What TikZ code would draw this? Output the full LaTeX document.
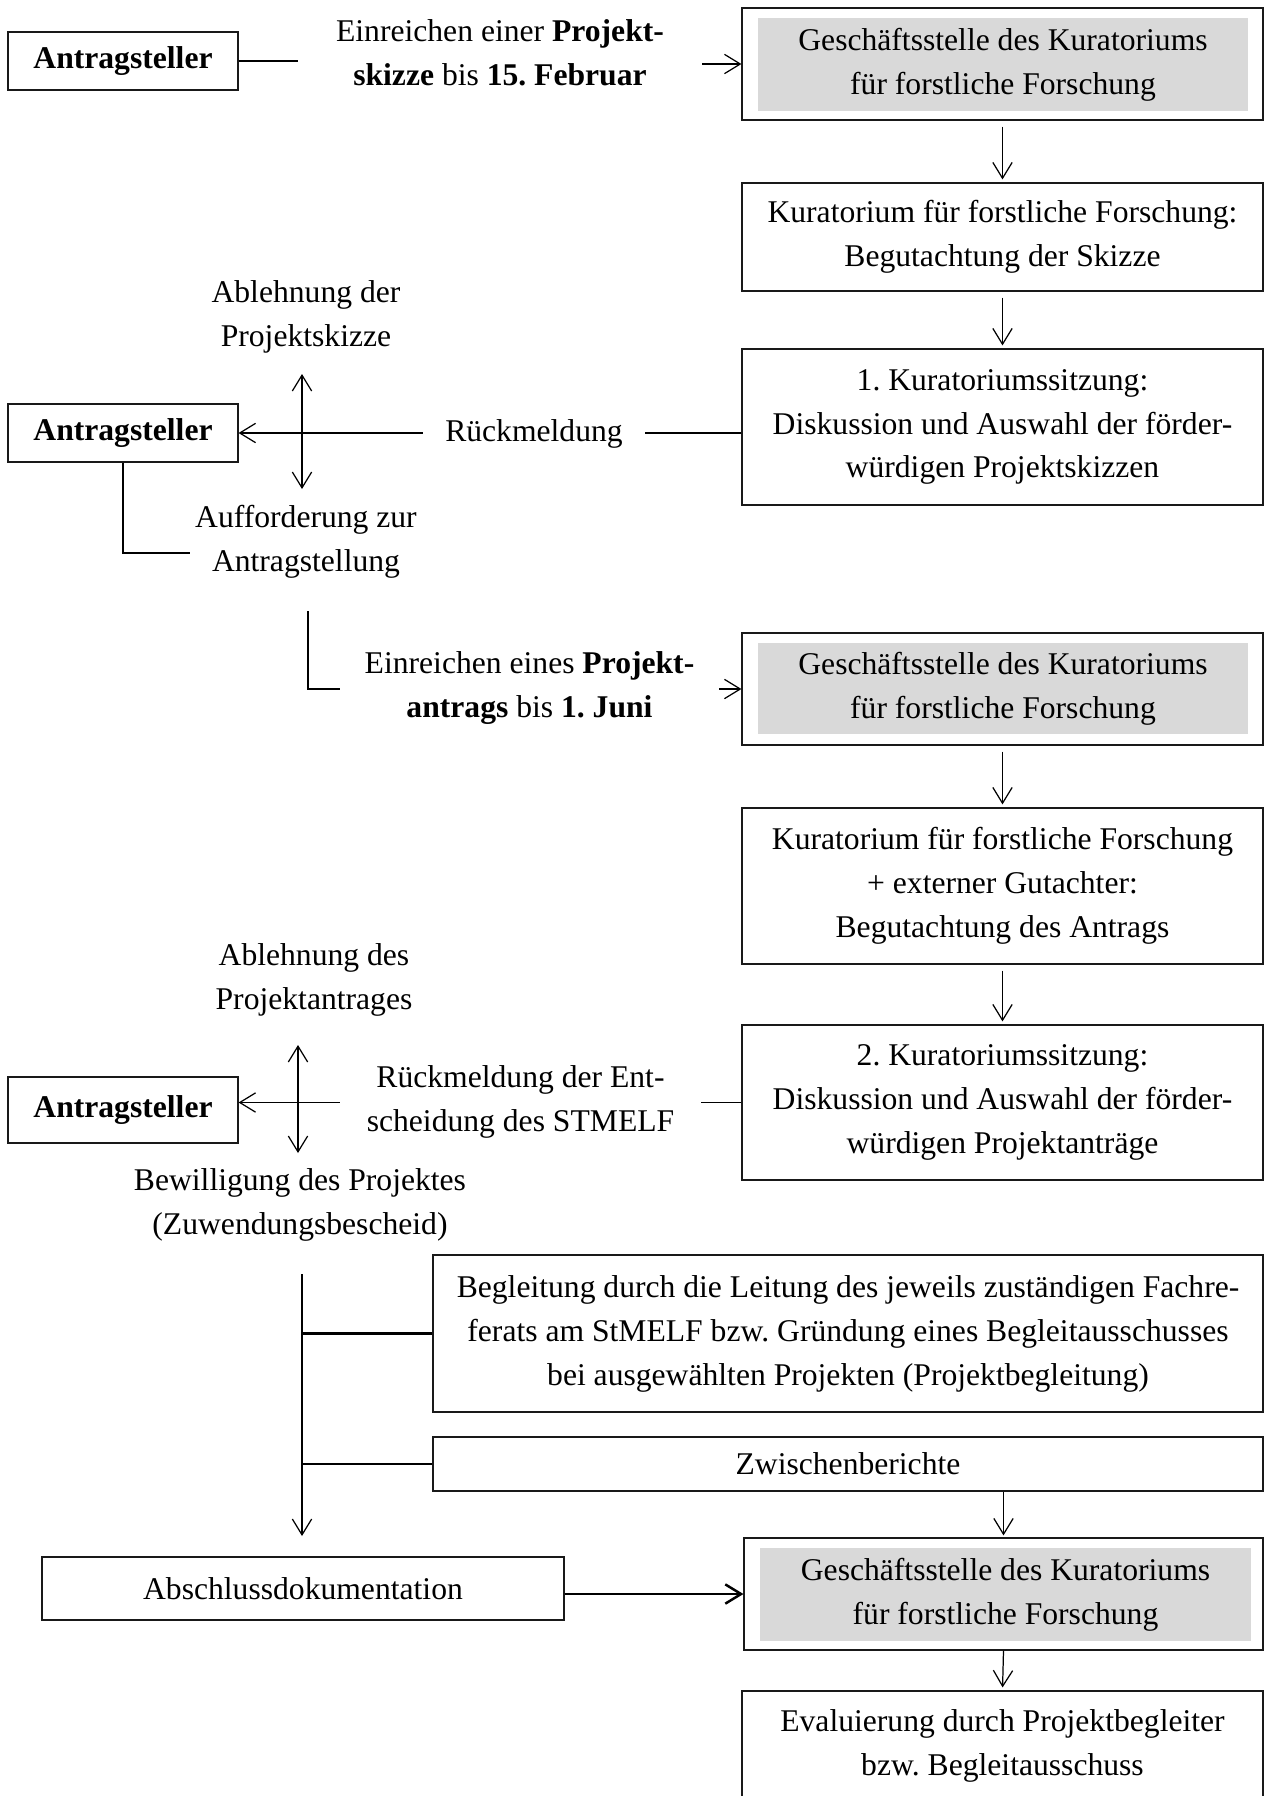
\documentclass[tikz,border=0pt]{standalone}
\usepackage{fontspec}
\setmainfont{Liberation Serif}
\usetikzlibrary{arrows.meta}
\definecolor{boxgray}{HTML}{D9D9D9}
\frenchspacing
\begin{document}
\begin{tikzpicture}[x=0.02cm,y=-0.02cm,
  font=\fontsize{18}{25}\selectfont\frenchspacing,
  box/.style={draw=black!90, line width=0.7pt, align=center, inner sep=0pt, minimum width=10.42cm},
  abox/.style={draw=black!90, line width=0.7pt, align=center, inner sep=0pt, minimum width=4.6cm},
  gbox/.style={fill=boxgray, draw=none, align=center, inner sep=0pt},
  txt/.style={align=center, inner sep=0pt},
  con/.style={line width=0.8pt},
  thk/.style={line width=1.5pt},
  arr/.style={line width=0.7pt, -{Straight Barb[length=9pt,width=11pt]}},
  arrb/.style={line width=0.7pt, {Straight Barb[length=9pt,width=11pt]}-{Straight Barb[length=9pt,width=11pt]}},
  varr/.style={arr, shorten <=0.12cm, shorten >=0.06cm}
]
\useasboundingbox (0,0) rectangle (1264,1796);

% --- row 1
\node[abox, minimum height=1.16cm] (a1) at (123,61) {\textbf{Antragsteller}};
\node[box, minimum height=2.24cm] (g1) at (1002.5,64) {};
\node[gbox, minimum width=9.8cm, minimum height=1.86cm] (g1i) at (1003,64.5) {Geschäftsstelle des Kuratoriums\\für forstliche Forschung};
\node[txt, minimum width=8.08cm] (t1) at (500,53) {Einreichen einer \textbf{Projekt-}\\\textbf{skizze} bis \textbf{15. Februar}};
\draw[con] (a1.east) -- (a1.east -| t1.west);
\draw[arr] (t1.east |- g1.west) -- (g1.west);

\node[box, minimum height=2.16cm] (k1) at (1002.5,237) {Kuratorium für forstliche Forschung:\\Begutachtung der Skizze};
\draw[varr] (g1.south) -- (k1.north);

\node[box, minimum height=3.12cm] (s1) at (1002.5,427) {1. Kuratoriumssitzung:\\Diskussion und Auswahl der förder-\\würdigen Projektskizzen};
\draw[varr] (k1.south) -- (s1.north);

% --- first feedback
\node[abox, minimum height=1.16cm] (a2) at (123,433) {\textbf{Antragsteller}};
\node[txt, minimum width=4.44cm] (r1) at (534,434) {Rückmeldung};
\draw[con] (s1.west |- a2.east) -- (r1.east |- a2.east);
\draw[arr] (r1.west |- a2.east) -- (a2.east);
\node[txt] (ab1) at (306,317) {Ablehnung der\\Projektskizze};
\node[txt] (au1) at (306,542) {Aufforderung zur\\Antragstellung};
\coordinate (v1t) at (302,374);
\coordinate (v1b) at (302,489);
\draw[arrb] (v1t) -- (v1b);
\coordinate (l1) at (190,553);
\draw[con] (a2.south) |- (l1);

% --- second submission
\node[box, minimum height=2.24cm] (g2) at (1002.5,689) {};
\node[gbox, minimum width=9.8cm, minimum height=1.82cm] (g2i) at (1003,688.5) {Geschäftsstelle des Kuratoriums\\für forstliche Forschung};
\coordinate (l2) at (308,611);
\node[txt, minimum width=7.58cm] (t2) at (529.5,688) {Einreichen eines \textbf{Projekt-}\\\textbf{antrags} bis \textbf{1. Juni}};
\draw[con] (l2) |- (t2.west |- g2.west);
\draw[arr] (t2.east |- g2.west) -- (g2.west);

\node[box, minimum height=3.12cm] (k2) at (1002.5,886) {Kuratorium für forstliche Forschung\\+ externer Gutachter:\\Begutachtung des Antrags};
\draw[varr] (g2.south) -- (k2.north);

\node[box, minimum height=3.1cm] (s2) at (1002.5,1102.5) {2. Kuratoriumssitzung:\\Diskussion und Auswahl der förder-\\würdigen Projektanträge};
\draw[varr] (k2.south) -- (s2.north);

% --- second feedback
\node[abox, minimum height=1.32cm] (a3) at (123,1110) {\textbf{Antragsteller}};
\node[txt, minimum width=7.22cm] (r2) at (520.5,1102) {Rückmeldung der Ent-\\scheidung des STMELF};
\draw[con] (s2.west) -- (s2.west -| r2.east);
\draw[arr] (r2.west |- s2.west) -- (a3.east |- s2.west);
\node[txt] (ab2) at (314,980) {Ablehnung des\\Projektantrages};
\node[txt] (bw) at (300,1205) {Bewilligung des Projektes\\(Zuwendungsbescheid)};
\coordinate (v2t) at (298,1045);
\coordinate (v2b) at (298,1153);
\draw[arrb] (v2t) -- (v2b);

% --- project phase
\node[draw=black!90, line width=0.7pt, align=center, inner sep=0pt, minimum width=16.6cm, minimum height=3.14cm] (beg) at (848,1333.5) {Begleitung durch die Leitung des jeweils zuständigen Fachre-\\ferats am StMELF bzw. Gründung eines Begleitausschusses\\bei ausgewählten Projekten (Projektbegleitung)};
\node[draw=black!90, line width=0.7pt, align=center, inner sep=0pt, minimum width=16.6cm, minimum height=1.08cm] (zw) at (848,1464) {Zwischenberichte};
\coordinate (c3) at (302,1274);
\coordinate (c4) at (302,1536);
\draw[arr] (c3) -- (c4);
\draw[thk] (c3 |- beg.west) -- (beg.west);
\draw[thk] (c3 |- zw.west) -- (zw.west);

\node[draw=black!90, line width=0.7pt, align=center, inner sep=0pt, minimum width=10.44cm, minimum height=1.26cm] (ab) at (303,1588.5) {Abschlussdokumentation};
\node[draw=black!90, line width=0.7pt, inner sep=0pt, minimum width=10.38cm, minimum height=2.24cm] (g3) at (1003.5,1594) {};
\node[gbox, minimum width=9.82cm, minimum height=1.86cm] (g3i) at (1005.5,1594.5) {Geschäftsstelle des Kuratoriums\\für forstliche Forschung};
\draw[arr, shorten >=0.04cm] (g3.north |- zw.south) -- (g3.north);
\draw[arr, line width=1.4pt] (ab.east |- g3.west) -- (g3.west);

\node[box, minimum height=2.18cm] (ev) at (1002.5,1745.5) {Evaluierung durch Projektbegleiter\\bzw. Begleitausschuss};
\draw[arr, shorten >=0.06cm] (g3.south) -- (ev.north);
\end{tikzpicture}
\end{document}
